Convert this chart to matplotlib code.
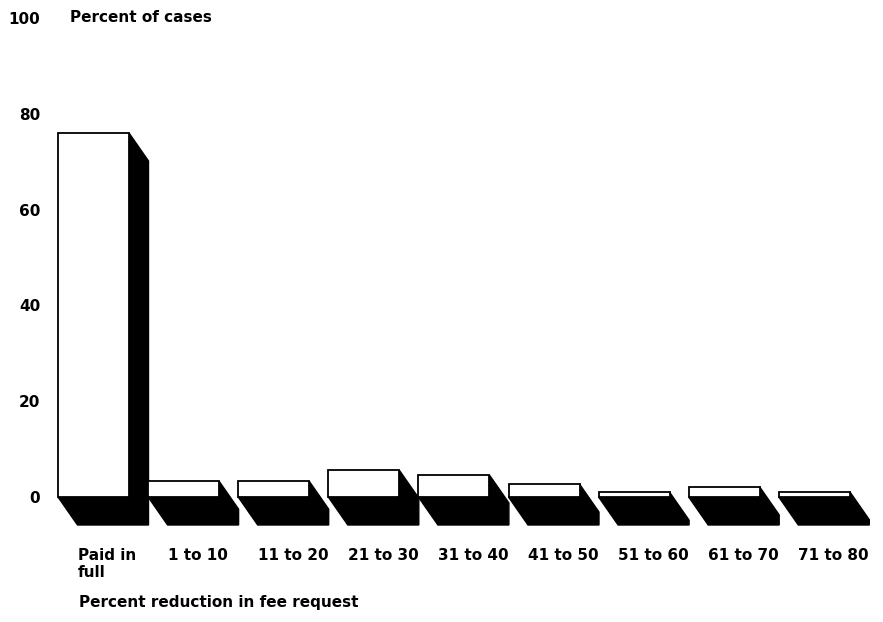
import matplotlib
matplotlib.use("Agg")
import matplotlib.pyplot as plt
from matplotlib.patches import Polygon

categories = ["Paid in\nfull", "1 to 10", "11 to 20", "21 to 30", "31 to 40",
              "41 to 50", "51 to 60", "61 to 70", "71 to 80"]
values = [76.0, 3.3, 3.3, 5.6, 4.6, 2.7, 1.0, 2.1, 1.1]
y_ticks = [0, 20, 40, 60, 80, 100]
y_title = "Percent of cases"
x_title = "Percent reduction in fee request"

plt.rcParams['font.family'] = ['DejaVu Sans']
plt.rcParams['font.weight'] = 'bold'

W, H = 883, 622
fig = plt.figure(figsize=(W / 100, H / 100), dpi=100)
L, R, T, B = 50, 878, 10, 540
ax = fig.add_axes([L / W, 1 - B / H, (R - L) / W, (B - T) / H])

x0_px, step_px = 93.5, 90.1
y0_px, unit_px = 497, 4.79
ax.set_xlim((L - x0_px) / step_px, (R - x0_px) / step_px)
ax.set_ylim((y0_px - B) / unit_px, (y0_px - T) / unit_px)

width = 71 / step_px
dx = 19.5 / step_px
dy = -28 / unit_px

xs = list(range(len(categories)))
for x, v in zip(xs, values):
    l, r = x - width / 2, x + width / 2
    shadow = Polygon([(l, 0), (l + dx, dy), (r + dx, dy), (r + dx, v + dy),
                      (r, v), (r, 0)], closed=True, facecolor='black',
                     edgecolor='black', linewidth=1, zorder=1)
    ax.add_patch(shadow)
ax.bar(xs, values, width=width, color='white', edgecolor='black',
       linewidth=1.3, zorder=2)

for s in ax.spines.values():
    s.set_visible(False)

fs = 11
ax.set_yticks(y_ticks)
ax.set_yticklabels([str(t) for t in y_ticks], fontsize=fs, fontweight='bold')
ax.tick_params(axis='y', length=0, pad=7)

ax.set_xticks([x - width / 2 + dx for x in xs])
ax.set_xticklabels(categories, fontsize=fs, fontweight='bold', ha='left',
                   linespacing=1.1)
ax.tick_params(axis='x', length=0, pad=6)

fig.text(70 / W, 1 - 18 / H, y_title, fontsize=fs, fontweight='bold',
         ha='left', va='center')
fig.text(79 / W, 1 - 602 / H, x_title, fontsize=fs, fontweight='bold',
         ha='left', va='center')

fig.savefig("out.png", dpi=100)
